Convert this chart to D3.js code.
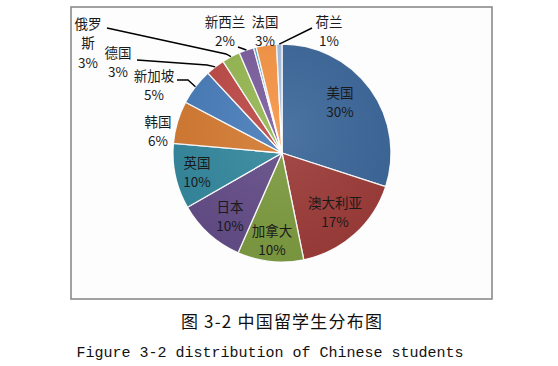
<!DOCTYPE html>
<html>
<head>
<meta charset="utf-8">
<script src="https://cdn.jsdelivr.net/npm/d3@7"></script>
<style>
  body { margin: 0; background: #fff; }
  svg { display: block; }
</style>
</head>
<body>
<svg width="558" height="366"></svg>
<script>
// slices, clockwise from 12 o'clock
const countries = ['美国', '澳大利亚', '加拿大', '日本', '英国', '韩国', '新加坡', '德国', '俄罗斯', '新西兰', '', '法国', '荷兰']
const shares = [30, 16.8, 9.8, 10.1, 9.7, 6.3, 5.4, 2.8, 2.7, 2.2, 0.4, 3.0, 0.8]
const colors = ['#3d689b', '#9e3d3a', '#7f9d42', '#654e89', '#35899f', '#d67c33',
  '#4a7ebb', '#be4b48', '#98b954', '#7d5fa0', '#4bacc6', '#f79646', '#a7bfde']

// label block positions (centre of first line) and leader starts
const labelPos = [[340, 93], [335, 203], [272, 231], [230, 207], [197, 163], [158, 122],
  [154, 76], [118, 53], [88, 24], [225, 22], [0, 0], [265, 22], [329, 22]]
const leaders = {
  6: [[177, 80], [188, 80]],
  7: [[137, 60], [207, 65]],
  8: [[107, 28], [226, 54]],
  9: [[238, 47]],
  12: [[312, 28]]
}

;(function (d3) {
  'use strict'

  const svg = d3.select('svg')
  const cx = 282, cy = 153, r = 109

  svg.append('rect')
    .attr('x', 71).attr('y', 7).attr('width', 421).attr('height', 292)
    .attr('fill', '#fdfdfd').attr('stroke', '#8a8a8a').attr('stroke-width', 1.6)

  const data = countries.map((name, i) => ({ name, value: shares[i], i }))
  const pie = d3.pie().sort(null).value(d => d.value)
  const arc = d3.arc().innerRadius(0).outerRadius(r)
  const edge = d3.arc().innerRadius(r).outerRadius(r)
  const arcs = pie(data)

  const defs = svg.append('defs')
  const grad = defs.append('radialGradient').attr('id', 'shade')
    .attr('cx', '50%').attr('cy', '40%').attr('r', '60%')
  grad.append('stop').attr('offset', '0%').attr('stop-color', '#fff').attr('stop-opacity', 0.08)
  grad.append('stop').attr('offset', '100%').attr('stop-color', '#000').attr('stop-opacity', 0.06)

  const g = svg.append('g').attr('transform', `translate(${cx},${cy})`)

  g.selectAll('path.slice')
    .data(arcs)
    .enter()
    .append('path')
    .attr('class', 'slice')
    .attr('d', arc)
    .attr('fill', d => colors[d.data.i])
    .attr('stroke', '#fff')
    .attr('stroke-width', 1.3)
    .attr('stroke-linejoin', 'round')

  g.append('circle').attr('r', r).attr('fill', 'url(#shade)')

  // leader lines
  Object.keys(leaders).forEach(k => {
    const a = arcs[+k]
    const end = edge.centroid(a).map((v, j) => v + (j ? cy : cx))
    const pts = leaders[k].concat([end])
    svg.append('path')
      .attr('d', d3.line()(pts))
      .attr('fill', 'none')
      .attr('stroke', '#000')
      .attr('stroke-width', 1.4)
  })

  const font = '"Noto Sans CJK SC", "Noto Sans", sans-serif'
  const labels = svg.append('g')
    .attr('font-family', font)
    .attr('font-size', 13.5)
    .attr('fill', '#1a1a1a')
    .attr('text-anchor', 'middle')

  arcs.forEach(a => {
    const i = a.data.i
    if (!a.data.name) return
    const [x, y] = labelPos[i]
    const lines = a.data.name === '俄罗斯' ? ['俄罗', '斯'] : [a.data.name]
    lines.push(Math.round(a.data.value) + '%')
    lines.forEach((t, j) => {
      labels.append('text')
        .attr('x', x).attr('y', y + j * 19.5)
        .attr('dy', '0.36em')
        .text(t)
    })
  })

  svg.append('text')
    .attr('x', 282).attr('y', 322).attr('dy', '0.36em')
    .attr('text-anchor', 'middle')
    .attr('font-family', '"Noto Sans CJK SC", serif')
    .attr('font-size', 17)
    .attr('letter-spacing', 1.2)
    .attr('fill', '#111')
    .text('图 3-2 中国留学生分布图')

  svg.append('text')
    .attr('x', 270).attr('y', 352).attr('dy', '0.36em')
    .attr('text-anchor', 'middle')
    .attr('font-family', '"Liberation Mono", monospace')
    .attr('font-size', 15)
    .attr('fill', '#111')
    .text('Figure 3-2 distribution of Chinese students')
}(d3))
</script>
</body>
</html>
